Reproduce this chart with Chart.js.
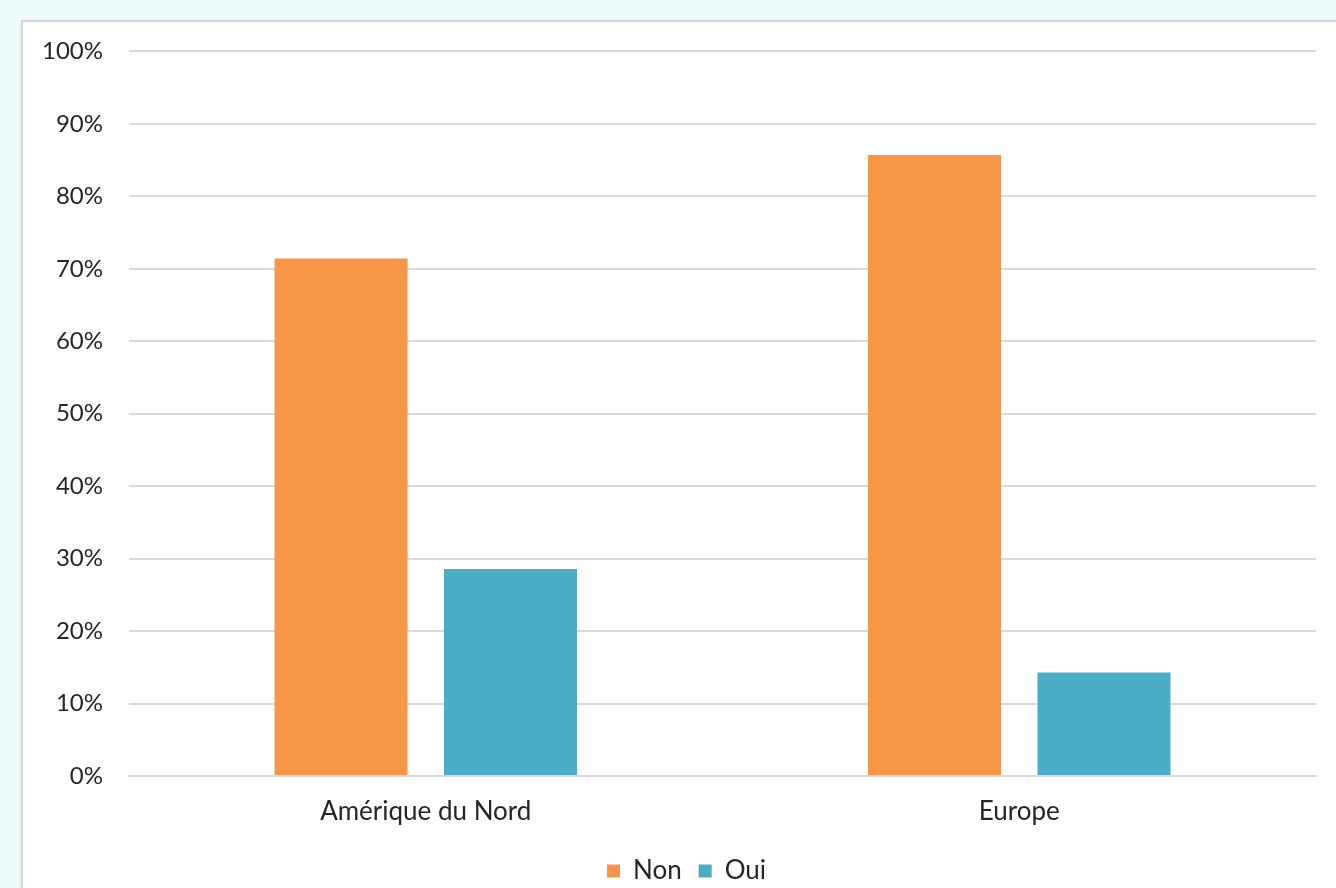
<!DOCTYPE html>
<html>
<head>
<meta charset="utf-8">
<script src="https://cdn.jsdelivr.net/npm/chart.js@4"></script>
<style>
  html, body { margin: 0; padding: 0; width: 1336px; height: 888px; overflow: hidden; background: #f0fbfe; }
  #card {
    position: absolute; left: 21px; top: 20px; width: 1400px; height: 900px;
    background: #ffffff; border: 2px solid #d4d6d7; box-sizing: border-box;
    box-shadow: 0 0 3px rgba(0,0,0,0.10);
  }
  #wrap { position: absolute; left: 2px; top: -11px; width: 1313px; height: 885px; }
</style>
</head>
<body>
<div id="card"><div id="wrap"><canvas id="c" width="1313" height="885"></canvas></div></div>
<script>
// Share of answers per region
const regions = ['Amérique du Nord', 'Europe'];
const nonValues = [71.43, 85.71];
const ouiValues = [28.57, 14.29];
const seriesNames = ['Non', 'Oui'];
const seriesColors = ['#f79646', '#4bacc6'];
const yTicks = [0, 10, 20, 30, 40, 50, 60, 70, 80, 90, 100];

const FONT = "Lato, 'Open Sans', 'Liberation Sans', sans-serif";
const TEXT = '#262626';
const GRID = '#d9d9d9';

// Centre the legend under the whole card rather than the padded layout box
const legendShift = {
  id: 'legendShift',
  afterLayout(chart) {
    const lg = chart.legend;
    if (lg) { lg.left += 16; lg.right += 16; }
  }
};

new Chart(document.getElementById('c'), {
  type: 'bar',
  data: {
    labels: regions,
    datasets: [
      { label: seriesNames[0], data: nonValues, backgroundColor: seriesColors[0] },
      { label: seriesNames[1], data: ouiValues, backgroundColor: seriesColors[1] }
    ]
  },
  plugins: [legendShift],
  options: {
    responsive: false,
    animation: false,
    devicePixelRatio: 1,
    categoryPercentage: 0.571,
    barPercentage: 0.785,
    layout: { padding: { top: 16, right: 22, left: 0, bottom: 2 } },
    plugins: {
      tooltip: { enabled: false },
      legend: {
        position: 'bottom',
        labels: {
          font: { family: FONT, size: 26 },
          color: TEXT,
          boxWidth: 13,
          boxHeight: 13,
          padding: 17
        }
      }
    },
    scales: {
      x: {
        grid: { display: false },
        border: { display: true, color: GRID, width: 2 },
        ticks: { font: { family: FONT, size: 26 }, color: TEXT, padding: 12 },
        afterFit: (s) => { s.height = 65; }
      },
      y: {
        min: 0,
        max: 100,
        afterBuildTicks: (s) => { s.ticks = yTicks.map(v => ({ value: v })); },
        grid: { color: GRID, lineWidth: 2, drawTicks: false },
        border: { display: false },
        ticks: {
          font: { family: FONT, size: 24 },
          color: TEXT,
          padding: 26,
          callback: (v) => v + '%'
        },
        afterFit: (s) => { s.width = 104; }
      }
    }
  }
});
</script>
</body>
</html>
